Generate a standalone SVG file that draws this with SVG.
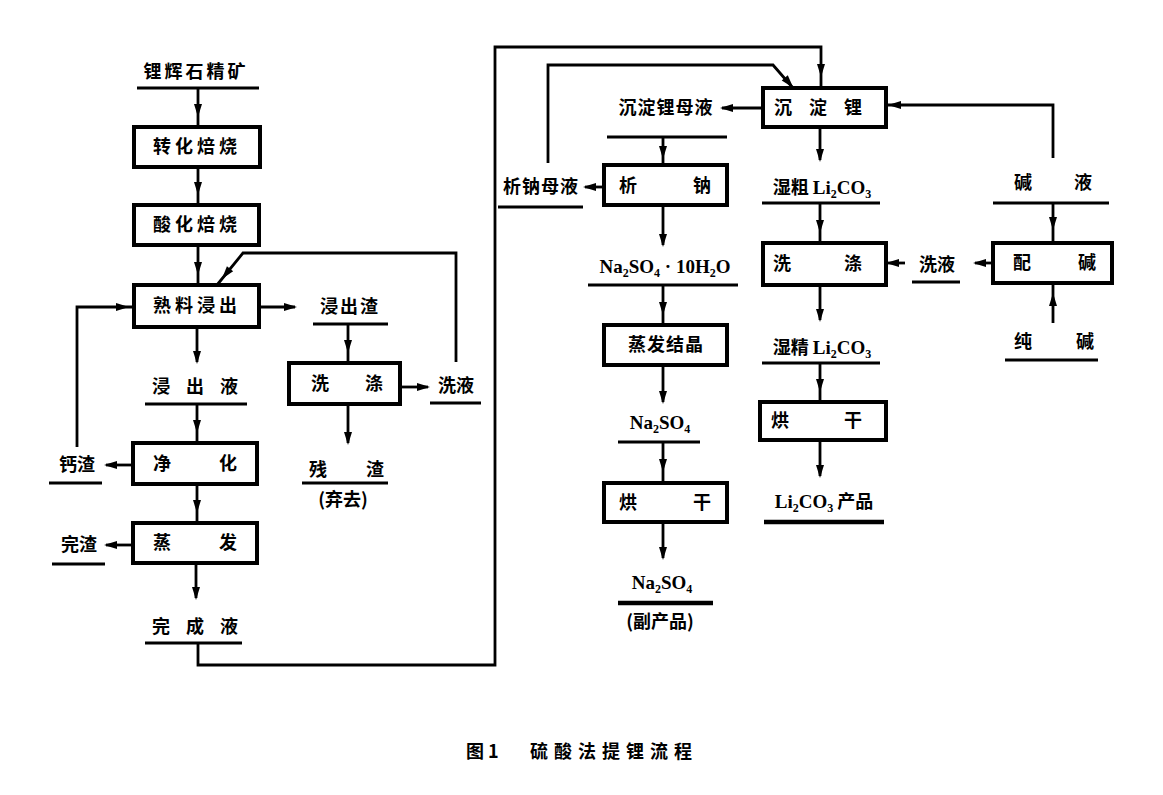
<svg xmlns="http://www.w3.org/2000/svg" xmlns:xlink="http://www.w3.org/1999/xlink" width="1163" height="795" viewBox="0 0 1163 795">
<defs>
<style>
.bg{fill:#fff}
.box{fill:#fff;stroke:#000;stroke-width:4}
.ln{fill:none;stroke:#000;stroke-width:2.8}
.ul{stroke:#000;stroke-width:2.8}
.ulb{stroke:#000;stroke-width:4.5}
.t{font-family:"Noto Sans CJK SC",sans-serif;font-size:18px;font-weight:bold;fill:#000;text-anchor:middle}
.f{font-family:"Liberation Serif","Noto Sans CJK SC",serif;font-size:19px;font-weight:bold;fill:#000;text-anchor:middle}
.cap{font-family:"Noto Sans CJK SC",sans-serif;font-size:18px;font-weight:bold;fill:#000}
</style>
<path id="ah" d="M0,5 L-4,-8 L4,-8 Z" fill="#000"/>
</defs>
<rect class="bg" x="0" y="0" width="1163" height="795"/>

<g id="connectors">
<path class="ln" d="M198,88 V127"/><use xlink:href="#ah" transform="translate(198,112)"/>
<path class="ln" d="M198,167 V205"/><use xlink:href="#ah" transform="translate(198,190)"/>
<path class="ln" d="M198,245 V285"/><use xlink:href="#ah" transform="translate(198,270)"/>
<path class="ln" d="M456,362 V253 H243 L217,285"/><use xlink:href="#ah" transform="translate(225,275) rotate(39)"/>
<path class="ln" d="M77,447 V307 H134"/><use xlink:href="#ah" transform="translate(124,307) rotate(-90)"/>
<path class="ln" d="M259,307 H295"/><use xlink:href="#ah" transform="translate(292,307) rotate(-90)"/>
<path class="ln" d="M348,324 V363"/><use xlink:href="#ah" transform="translate(348,348)"/>
<path class="ln" d="M400,387 H428"/><use xlink:href="#ah" transform="translate(425,387) rotate(-90)"/>
<path class="ln" d="M348,404 V443"/><use xlink:href="#ah" transform="translate(348,440)"/>
<path class="ln" d="M197,327 V362"/><use xlink:href="#ah" transform="translate(197,359)"/>
<path class="ln" d="M197,404 V443"/><use xlink:href="#ah" transform="translate(197,428)"/>
<path class="ln" d="M133,465 H106"/><use xlink:href="#ah" transform="translate(109,465) rotate(90)"/>
<path class="ln" d="M197,484 V523"/><use xlink:href="#ah" transform="translate(197,508)"/>
<path class="ln" d="M133,545 H106"/><use xlink:href="#ah" transform="translate(109,545) rotate(90)"/>
<path class="ln" d="M196,563 V598"/><use xlink:href="#ah" transform="translate(196,595)"/>
<path class="ln" d="M198,643 V665 H495 V47 H821 V88"/><use xlink:href="#ah" transform="translate(821,72)"/>
<path class="ln" d="M548,163 V65 H773 L793,88"/><use xlink:href="#ah" transform="translate(790,84) rotate(-41)"/>
<path class="ln" d="M763,108 H722"/><use xlink:href="#ah" transform="translate(725,108) rotate(90)"/>
<path class="ln" d="M663,137 V165"/><use xlink:href="#ah" transform="translate(663,154)"/>
<path class="ln" d="M604,187 H585"/><use xlink:href="#ah" transform="translate(588,187) rotate(90)"/>
<path class="ln" d="M663,205 V245"/><use xlink:href="#ah" transform="translate(663,242)"/>
<path class="ln" d="M663,285 V325"/><use xlink:href="#ah" transform="translate(663,310)"/>
<path class="ln" d="M663,365 V402"/><use xlink:href="#ah" transform="translate(663,399)"/>
<path class="ln" d="M663,442 V483"/><use xlink:href="#ah" transform="translate(663,467)"/>
<path class="ln" d="M663,522 V558"/><use xlink:href="#ah" transform="translate(663,555)"/>
<path class="ln" d="M820,127 V160"/><use xlink:href="#ah" transform="translate(820,157)"/>
<path class="ln" d="M820,203 V243"/><use xlink:href="#ah" transform="translate(820,228)"/>
<path class="ln" d="M820,285 V320"/><use xlink:href="#ah" transform="translate(820,317)"/>
<path class="ln" d="M820,363 V402"/><use xlink:href="#ah" transform="translate(820,387)"/>
<path class="ln" d="M820,440 V476"/><use xlink:href="#ah" transform="translate(820,473)"/>
<path class="ln" d="M1053,158 V105 H886"/><use xlink:href="#ah" transform="translate(893,105) rotate(90)"/>
<path class="ln" d="M1053,203 V243"/><use xlink:href="#ah" transform="translate(1053,225)"/>
<path class="ln" d="M993,263 H975"/><use xlink:href="#ah" transform="translate(978,263) rotate(90)"/>
<path class="ln" d="M905,263 H886"/><use xlink:href="#ah" transform="translate(891,263) rotate(90)"/>
<path class="ln" d="M1053,323 V283"/><use xlink:href="#ah" transform="translate(1053,298) rotate(180)"/>
</g>

<g id="n-spodumene"><text class="t" x="196" y="78" letter-spacing="3">锂辉石精矿</text><line class="ul" x1="137" y1="88" x2="259" y2="88"/></g>
<g id="n-roast1"><rect class="box" x="134" y="127" width="126" height="40"/><text class="t" x="197" y="153" letter-spacing="4">转化焙烧</text></g>
<g id="n-roast2"><rect class="box" x="134" y="205" width="125" height="40"/><text class="t" x="197" y="231" letter-spacing="4">酸化焙烧</text></g>
<g id="n-leach"><rect class="box" x="134" y="285" width="125" height="42"/><text class="t" x="197" y="312" letter-spacing="4">熟料浸出</text></g>
<g id="n-leachres"><text class="t" x="350" y="313" letter-spacing="2">浸出渣</text><line class="ul" x1="313" y1="324" x2="388" y2="324"/></g>
<g id="n-wash1"><rect class="box" x="289" y="363" width="111" height="41"/><text class="t" y="390"><tspan x="320">洗</tspan><tspan x="374">涤</tspan></text></g>
<g id="n-washliq1"><text class="t" x="456" y="392">洗液</text><line class="ul" x1="430" y1="403" x2="481" y2="403"/></g>
<g id="n-residue"><text class="t" y="476"><tspan x="318">残</tspan><tspan x="375">渣</tspan></text><line class="ul" x1="302" y1="483" x2="388" y2="483"/><text class="t" x="343" y="506">(弃去)</text></g>
<g id="n-leachliq"><text class="t" y="393"><tspan x="161">浸</tspan><tspan x="195">出</tspan><tspan x="229">液</tspan></text><line class="ul" x1="145" y1="404" x2="247" y2="404"/></g>
<g id="n-purify"><rect class="box" x="133" y="443" width="124" height="41"/><text class="t" y="470"><tspan x="162">净</tspan><tspan x="228">化</tspan></text></g>
<g id="n-caslag"><text class="t" x="77" y="471">钙渣</text><line class="ul" x1="49" y1="483" x2="102" y2="483"/></g>
<g id="n-evap"><rect class="box" x="133" y="523" width="124" height="40"/><text class="t" y="549"><tspan x="162">蒸</tspan><tspan x="228">发</tspan></text></g>
<g id="n-wanslag"><text class="t" x="79" y="551">完渣</text><line class="ul" x1="52" y1="564" x2="105" y2="564"/></g>
<g id="n-finalliq"><text class="t" y="633"><tspan x="161">完</tspan><tspan x="195">成</tspan><tspan x="229">液</tspan></text><line class="ul" x1="145" y1="643" x2="242" y2="643"/></g>

<g id="n-precip"><rect class="box" x="763" y="88" width="123" height="39"/><text class="t" y="114"><tspan x="783">沉</tspan><tspan x="818">淀</tspan><tspan x="853">锂</tspan></text></g>
<g id="n-precipml"><text class="t" x="666" y="114" letter-spacing="1">沉淀锂母液</text><line class="ul" x1="607" y1="137" x2="727" y2="137"/></g>
<g id="n-nasep"><rect class="box" x="604" y="165" width="123" height="40"/><text class="t" y="192"><tspan x="628">析</tspan><tspan x="702">钠</tspan></text></g>
<g id="n-nasepml"><text class="t" x="541" y="193" letter-spacing="1">析钠母液</text><line class="ul" x1="498" y1="207" x2="583" y2="207"/></g>
<g id="n-glauber"><text class="f" x="665" y="273">Na<tspan font-size="12" dy="4">2</tspan><tspan dy="-4">SO</tspan><tspan font-size="12" dy="4">4</tspan><tspan dy="-4"> · 10H</tspan><tspan font-size="12" dy="4">2</tspan><tspan dy="-4">O</tspan></text><line class="ul" x1="588" y1="285" x2="738" y2="285"/></g>
<g id="n-evapcryst"><rect class="box" x="604" y="325" width="123" height="40"/><text class="t" x="666" y="351" letter-spacing="1">蒸发结晶</text></g>
<g id="n-na2so4a"><text class="f" x="660" y="429">Na<tspan font-size="12" dy="4">2</tspan><tspan dy="-4">SO</tspan><tspan font-size="12" dy="4">4</tspan></text><line class="ul" x1="618" y1="442" x2="700" y2="442"/></g>
<g id="n-dry1"><rect class="box" x="604" y="483" width="123" height="39"/><text class="t" y="509"><tspan x="628">烘</tspan><tspan x="702">干</tspan></text></g>
<g id="n-na2so4b"><text class="f" x="662" y="589">Na<tspan font-size="12" dy="4">2</tspan><tspan dy="-4">SO</tspan><tspan font-size="12" dy="4">4</tspan></text><line class="ulb" x1="618" y1="603" x2="713" y2="603"/><text class="t" x="660" y="628">(副产品)</text></g>

<g id="n-crude"><text class="f" x="822" y="194"><tspan font-family="Noto Sans CJK SC" font-size="18">湿粗 </tspan>Li<tspan font-size="12" dy="4">2</tspan><tspan dy="-4">CO</tspan><tspan font-size="12" dy="4">3</tspan></text><line class="ul" x1="762" y1="203" x2="880" y2="203"/></g>
<g id="n-wash2"><rect class="box" x="763" y="243" width="123" height="42"/><text class="t" y="270"><tspan x="782">洗</tspan><tspan x="853">涤</tspan></text></g>
<g id="n-fine"><text class="f" x="822" y="354"><tspan font-family="Noto Sans CJK SC" font-size="18">湿精 </tspan>Li<tspan font-size="12" dy="4">2</tspan><tspan dy="-4">CO</tspan><tspan font-size="12" dy="4">3</tspan></text><line class="ul" x1="762" y1="363" x2="880" y2="363"/></g>
<g id="n-dry2"><rect class="box" x="760" y="402" width="126" height="38"/><text class="t" y="427"><tspan x="780">烘</tspan><tspan x="853">干</tspan></text></g>
<g id="n-product"><text class="f" x="824" y="508">Li<tspan font-size="12" dy="4">2</tspan><tspan dy="-4">CO</tspan><tspan font-size="12" dy="4">3</tspan><tspan dy="-4" font-family="Noto Sans CJK SC" font-size="18"> 产品</tspan></text><line class="ulb" x1="764" y1="522" x2="884" y2="522"/></g>
<g id="n-alkliq"><text class="t" y="189"><tspan x="1023">碱</tspan><tspan x="1083">液</tspan></text><line class="ul" x1="993" y1="203" x2="1109" y2="203"/></g>
<g id="n-mixalk"><rect class="box" x="993" y="243" width="119" height="40"/><text class="t" y="269"><tspan x="1022">配</tspan><tspan x="1087">碱</tspan></text></g>
<g id="n-washliq2"><text class="t" x="937" y="271">洗液</text><line class="ul" x1="912" y1="282" x2="960" y2="282"/></g>
<g id="n-soda"><text class="t" y="348"><tspan x="1023">纯</tspan><tspan x="1085">碱</tspan></text><line class="ul" x1="1005" y1="360" x2="1098" y2="360"/></g>

<g id="caption"><text class="cap" x="466" y="758">图 1</text><text class="cap" x="530" y="758" letter-spacing="6">硫酸法提锂流程</text></g>
</svg>
